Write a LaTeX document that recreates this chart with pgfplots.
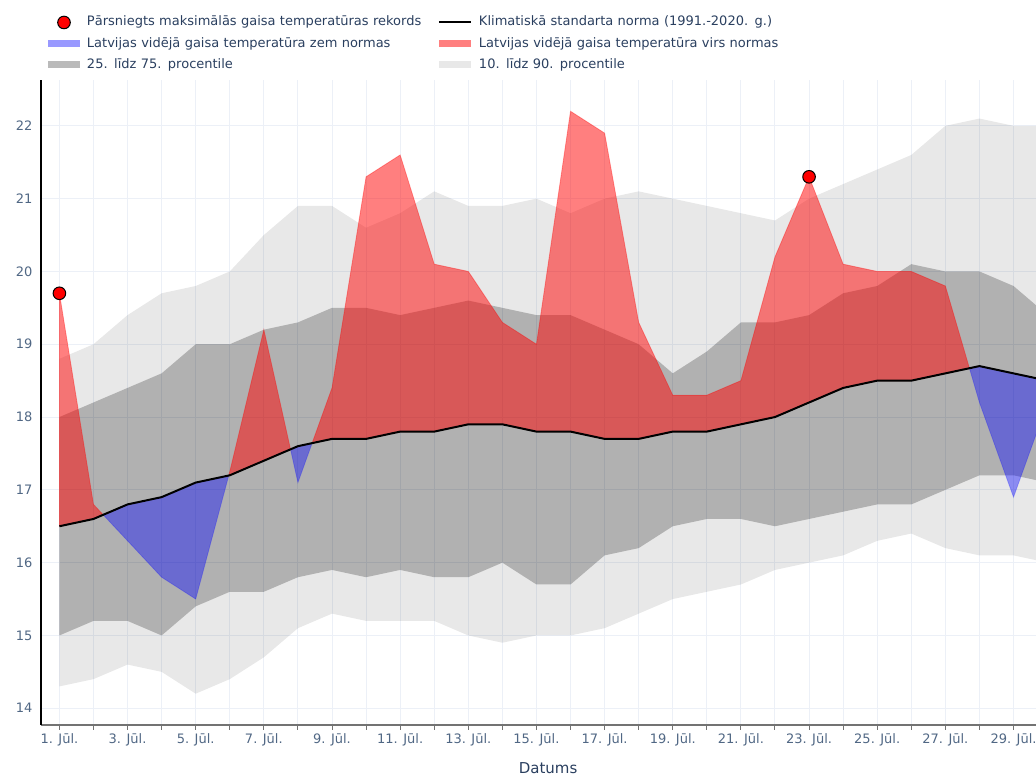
\documentclass[border=0pt]{standalone}
\usepackage{fontspec}
\setmainfont{DejaVu Sans}
\usepackage{pgfplots}
\usepackage{pgfplotstable}
\pgfplotsset{compat=1.18}
\usepgfplotslibrary{fillbetween}
\definecolor{gridc}{RGB}{236,240,247}
\definecolor{tickc}{RGB}{80,103,132}
\definecolor{titlec}{RGB}{42,63,95}
\definecolor{axisx}{RGB}{115,115,115}
\pgfplotstableread{
day p10 p25 p75 p90 norm act
1 14.3 15.0 18.0 18.8 16.5 19.7
2 14.4 15.2 18.2 19.0 16.6 16.8
3 14.6 15.2 18.4 19.4 16.8 16.3
4 14.5 15.0 18.6 19.7 16.9 15.8
5 14.2 15.4 19.0 19.8 17.1 15.5
6 14.4 15.6 19.0 20.0 17.2 17.25
7 14.7 15.6 19.2 20.5 17.4 19.2
8 15.1 15.8 19.3 20.9 17.6 17.1
9 15.3 15.9 19.5 20.9 17.7 18.4
10 15.2 15.8 19.5 20.6 17.7 21.3
11 15.2 15.9 19.4 20.8 17.8 21.6
12 15.2 15.8 19.5 21.1 17.8 20.1
13 15.0 15.8 19.6 20.9 17.9 20.0
14 14.9 16.0 19.5 20.9 17.9 19.3
15 15.0 15.7 19.4 21.0 17.8 19.0
16 15.0 15.7 19.4 20.8 17.8 22.2
17 15.1 16.1 19.2 21.0 17.7 21.9
18 15.3 16.2 19.0 21.1 17.7 19.3
19 15.5 16.5 18.6 21.0 17.8 18.3
20 15.6 16.6 18.9 20.9 17.8 18.3
21 15.7 16.6 19.3 20.8 17.9 18.5
22 15.9 16.5 19.3 20.7 18.0 20.2
23 16.0 16.6 19.4 21.0 18.2 21.3
24 16.1 16.7 19.7 21.2 18.4 20.1
25 16.3 16.8 19.8 21.4 18.5 20.0
26 16.4 16.8 20.1 21.6 18.5 20.0
27 16.2 17.0 20.0 22.0 18.6 19.8
28 16.1 17.2 20.0 22.1 18.7 18.2
29 16.1 17.2 19.8 22.0 18.6 16.9
30 16.0 17.1 19.4 22.0 18.5 18.2
}\data
\begin{document}
\begin{tikzpicture}
\begin{axis}[
  scale only axis, width=995pt, height=645pt,
  xmin=0.46, xmax=29.66, ymin=13.77, ymax=22.63,
  axis lines*=left,
  x axis line style={draw=axisx, line width=1.5pt},
  y axis line style={draw=black, line width=1.6pt},
  xtick={1,...,30},
  xticklabels={1. Jūl.,,3. Jūl.,,5. Jūl.,,7. Jūl.,,9. Jūl.,,11. Jūl.,,13. Jūl.,,15. Jūl.,,17. Jūl.,,19. Jūl.,,21. Jūl.,,23. Jūl.,,25. Jūl.,,27. Jūl.,,29. Jūl.,},
  ytick={14,...,22},
  grid=major, grid style={draw=gridc, line width=1pt},
  tick align=outside,
  major tick length=5pt,
  xtick style={draw=axisx, line width=1pt},
  ytick style={draw=none},
  ticklabel style={font=\fontsize{13}{15}\selectfont, text=tickc},
  /pgf/number format/assume math mode=true,
  xlabel={Datums},
  every axis x label/.style={at={(axis description cs:0.5096,0)}, anchor=center, yshift=-43pt, font=\fontsize{15}{18}\selectfont, text=titlec},
  legend columns=2,
  legend style={
    at={(axis description cs:0,1)}, anchor=north west, xshift=7pt, yshift=64.3pt,
    draw=none, fill=none, inner sep=0pt, outer sep=0pt,
    column sep=7pt, row sep=8pt,
    nodes={inner sep=0pt, text width=344pt, align=left, text height=10pt, text depth=3pt, font=\fontsize{13}{15}\selectfont, text=titlec},
  },
]
\addplot[name path=p90, draw=none, forget plot] table[x=day,y=p90]{\data};
\addplot[name path=p10, draw=none, forget plot] table[x=day,y=p10]{\data};
\addplot[fill=black, fill opacity=0.09, draw=none, forget plot] fill between[of=p90 and p10];
\addplot[name path=p75, draw=none, forget plot] table[x=day,y=p75]{\data};
\addplot[name path=p25, draw=none, forget plot] table[x=day,y=p25]{\data};
\addplot[fill=black, fill opacity=0.24, draw=none, forget plot] fill between[of=p75 and p25];
\addplot[name path=act, draw=none, forget plot] table[x=day,y=act]{\data};
\addplot[name path=norm, draw=none, forget plot] table[x=day,y=norm]{\data};
\addplot[forget plot] fill between[of=act and norm, split,
  every even segment/.style={fill=red, fill opacity=0.5, draw=red, draw opacity=0.35, line width=0.8pt},
  every odd segment/.style={fill=blue, fill opacity=0.4, draw=blue, draw opacity=0.25, line width=0.8pt}];
\addplot[black, line width=2pt, forget plot] table[x=day,y=norm]{\data};
\addplot[only marks, mark=*, mark size=6.3pt, mark options={fill=red, draw=black, line width=1pt}, forget plot] coordinates {(1,19.7) (23,21.3)};

\addlegendimage{legend image code/.code={\path[draw=none,fill=none] (0pt,0pt) -- (32pt,0pt); \filldraw[fill=red, draw=black, line width=1pt] (16pt,0pt) circle (6.3pt);}}
\addlegendentry{Pārsniegts maksimālās gaisa temperatūras rekords}
\addlegendimage{legend image code/.code={\draw[black, line width=2pt] (0pt,0pt) -- (32pt,0pt);}}
\addlegendentry{Klimatiskā standarta norma (1991.-2020. g.)}
\addlegendimage{legend image code/.code={\path[draw=none, fill=blue, fill opacity=0.4] (0pt,-3.5pt) rectangle (32pt,3.5pt);}}
\addlegendentry{Latvijas vidējā gaisa temperatūra zem normas}
\addlegendimage{legend image code/.code={\path[draw=none, fill=red, fill opacity=0.5] (0pt,-3.5pt) rectangle (32pt,3.5pt);}}
\addlegendentry{Latvijas vidējā gaisa temperatūra virs normas}
\addlegendimage{legend image code/.code={\path[draw=none, fill=black, fill opacity=0.27] (0pt,-3.5pt) rectangle (32pt,3.5pt);}}
\addlegendentry{25. līdz 75. procentile}
\addlegendimage{legend image code/.code={\path[draw=none, fill=black, fill opacity=0.09] (0pt,-3.5pt) rectangle (32pt,3.5pt);}}
\addlegendentry{10. līdz 90. procentile}
\end{axis}
\pgfresetboundingbox
\path[use as bounding box] (-41pt,-53pt) rectangle (995pt,725pt);
\end{tikzpicture}
\end{document}
